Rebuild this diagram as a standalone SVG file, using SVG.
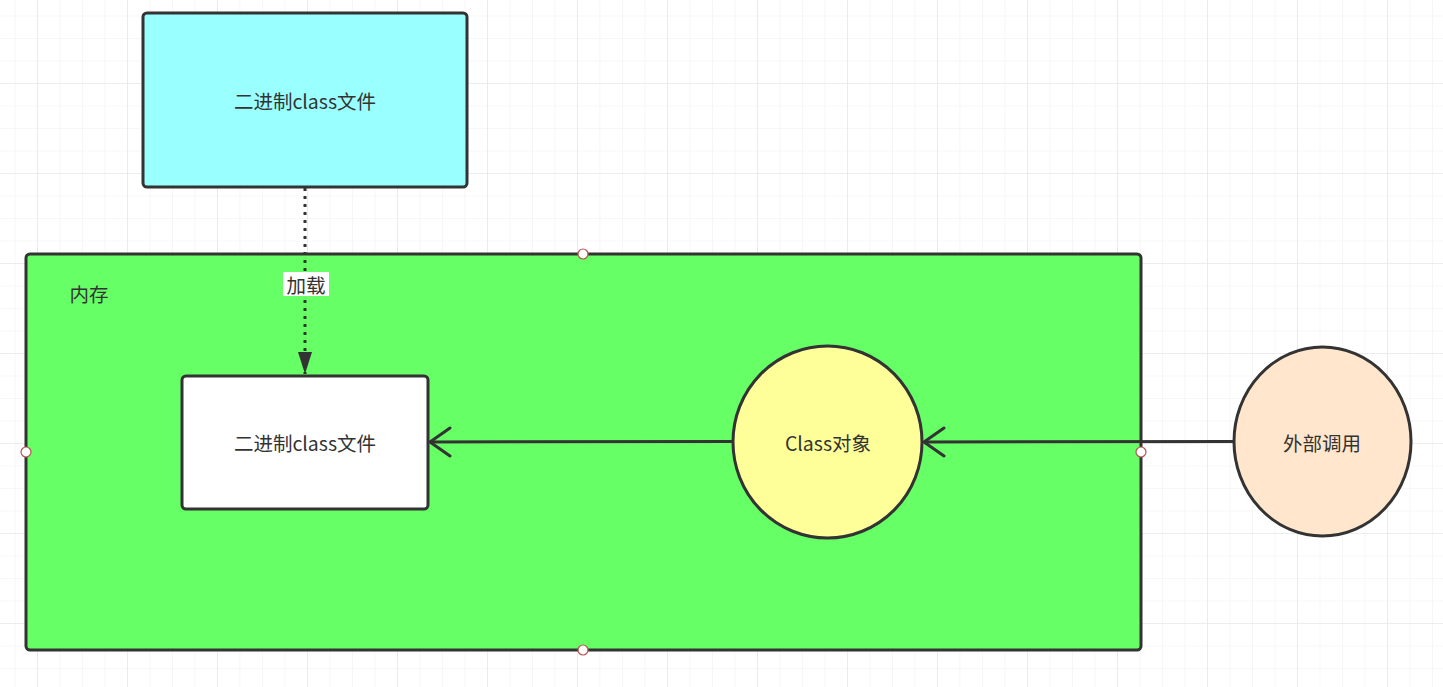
<svg xmlns="http://www.w3.org/2000/svg" width="1443" height="687" viewBox="0 0 1443 687">
  <defs>
    <pattern id="minor" x="14.5" y="15.5" width="22.5" height="22.5" patternUnits="userSpaceOnUse">
      <path d="M0 0H22.5M0 0V22.5" fill="none" stroke="#f0f0f0" stroke-width="1.2"/>
    </pattern>
    <pattern id="major" x="37" y="83" width="90" height="90" patternUnits="userSpaceOnUse">
      <path d="M0 0H90M0 0V90" fill="none" stroke="#e4e4e4" stroke-width="1.2"/>
    </pattern>
    <marker id="filled" viewBox="0 0 22 14" refX="22" refY="7" markerWidth="22" markerHeight="14" markerUnits="userSpaceOnUse" orient="auto">
      <path d="M0 0L22 7L0 14Z" fill="#333"/>
    </marker>
    <marker id="open" viewBox="0 0 24 32" refX="22" refY="16" markerWidth="24" markerHeight="32" markerUnits="userSpaceOnUse" orient="auto">
      <path d="M2 2L22 16L2 30" fill="none" stroke="#333" stroke-width="3" stroke-linecap="round" stroke-linejoin="round"/>
    </marker>
  </defs>
  <style>
    .shape { stroke: #333333; stroke-width: 3; }
    .lbl { font-family: "Noto Sans CJK SC", "Noto Sans", sans-serif; font-size: 19.5px; fill: #333333; text-anchor: middle; dominant-baseline: central; }
    .edge { fill: none; stroke: #333333; stroke-width: 3; }
    .pt { fill: #ffffff; stroke: #b85450; stroke-width: 1.2; }
  </style>
  <rect width="1443" height="687" fill="#ffffff"/>
  <rect width="1443" height="687" fill="url(#minor)"/>
  <rect width="1443" height="687" fill="url(#major)"/>

  <g id="node-file-top">
    <rect class="shape" x="143" y="13" width="324" height="174" rx="4" fill="#99ffff"/>
    <text class="lbl" x="305" y="100">二进制class文件</text>
  </g>

  <g id="node-memory">
    <rect class="shape" x="26" y="254" width="1115" height="396" rx="4" fill="#66ff66"/>
    <text class="lbl" x="89" y="293">内存</text>
  </g>

  <g id="node-file-mem">
    <rect class="shape" x="182" y="376" width="246" height="133" rx="4" fill="#ffffff"/>
    <text class="lbl" x="305" y="442">二进制class文件</text>
  </g>

  <g id="node-class-obj">
    <ellipse class="shape" cx="827.5" cy="442" rx="94.5" ry="96" fill="#ffff99"/>
    <text class="lbl" x="828" y="442">Class对象</text>
  </g>

  <g id="node-external">
    <ellipse class="shape" cx="1322.5" cy="441.5" rx="88.5" ry="94.5" fill="#ffe6cc"/>
    <text class="lbl" x="1322" y="442">外部调用</text>
  </g>

  <g id="connectors">
    <line class="edge" x1="305" y1="188" x2="305" y2="374" stroke-dasharray="3 5" marker-end="url(#filled)"/>
    <rect x="283" y="272" width="46" height="24" fill="#ffffff"/>
    <text class="lbl" x="306" y="284">加载</text>
    <line class="edge" x1="733" y1="441.5" x2="430" y2="442" marker-end="url(#open)"/>
    <line class="edge" x1="1234" y1="441.5" x2="924" y2="442" marker-end="url(#open)"/>
  </g>

  <g id="points">
    <circle class="pt" cx="583" cy="254" r="5"/>
    <circle class="pt" cx="26" cy="452" r="5"/>
    <circle class="pt" cx="1141" cy="452" r="5"/>
    <circle class="pt" cx="583" cy="650" r="5"/>
  </g>
</svg>
